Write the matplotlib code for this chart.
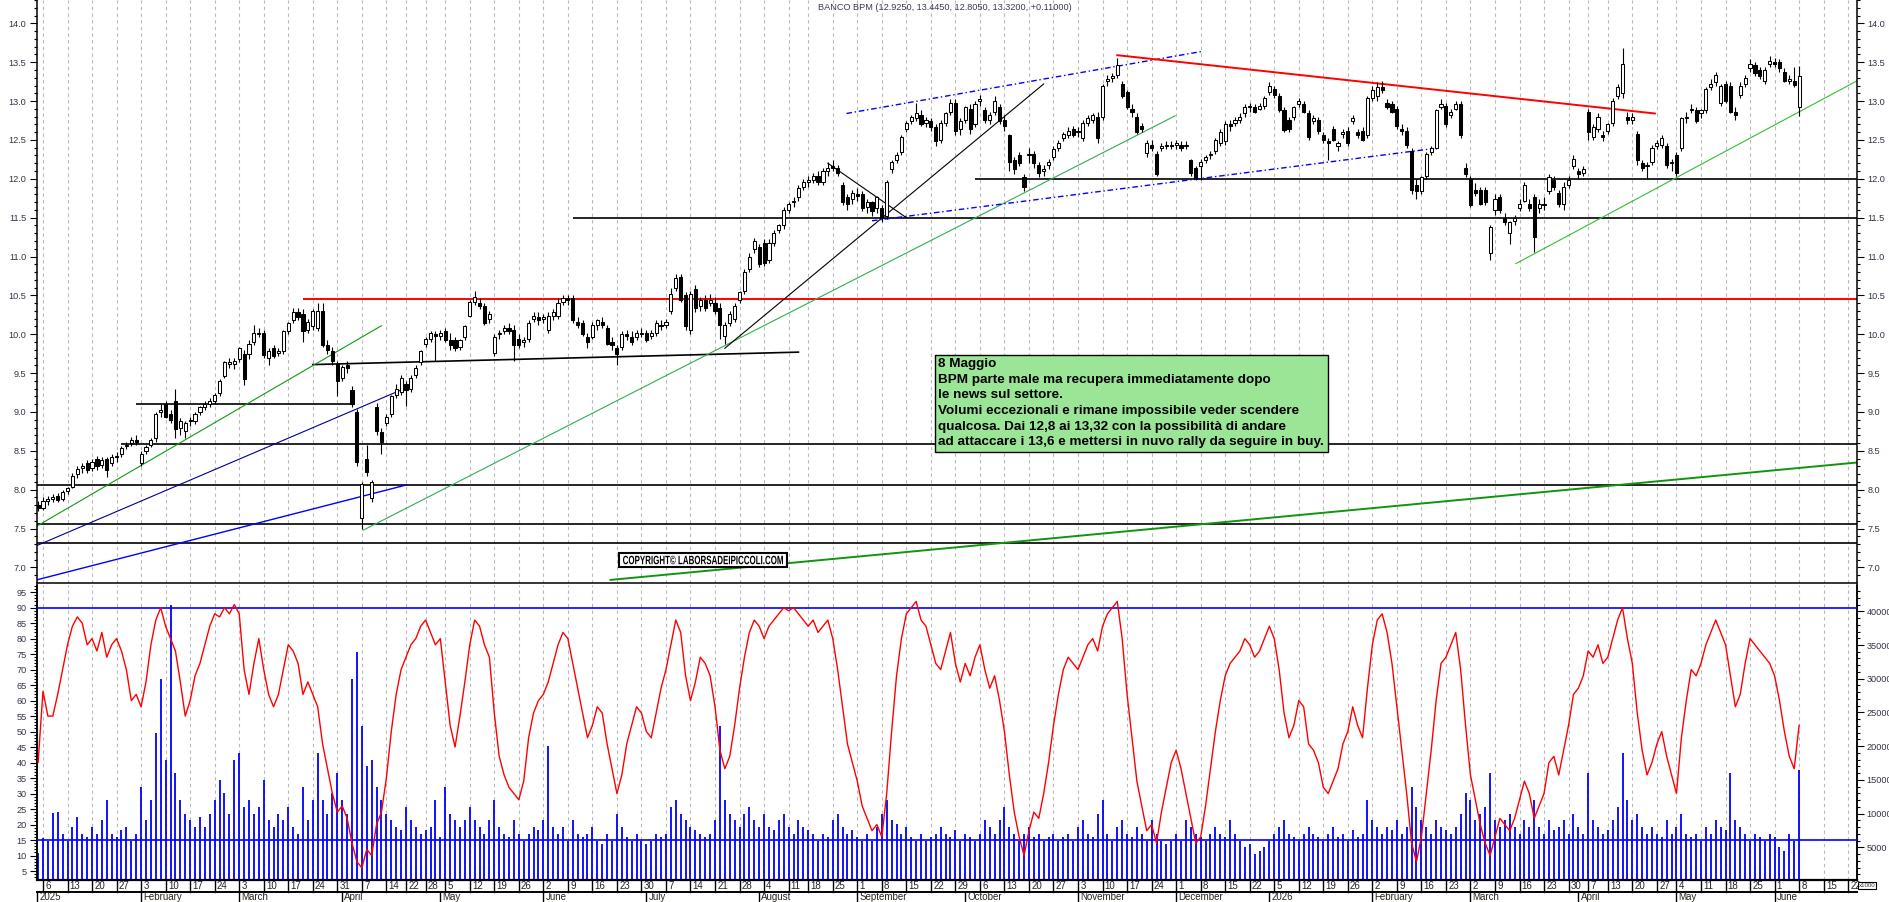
import numpy as np
import matplotlib
matplotlib.use("Agg")
import matplotlib.pyplot as plt
from matplotlib.patches import Rectangle, PathPatch
from matplotlib.textpath import TextPath
from matplotlib.font_manager import FontProperties
from matplotlib.transforms import blended_transform_factory, Affine2D, IdentityTransform

plt.rcParams['font.family'] = ['Liberation Sans', 'DejaVu Sans']

# trading-day index: 0 = Mon 6 Jan 2025, first candle is 3 Jan (index -1)
first_day = -1

opens = [
    7.80, 7.76, 7.86, 7.88, 7.92, 7.88, 7.98, 8.04, 8.20, 8.28,
    8.34, 8.28, 8.40, 8.32, 8.40, 8.34, 8.42, 8.46, 8.56, 8.60,
    8.64, 8.34, 8.50, 8.58, 8.66, 9.00, 9.10, 8.98, 9.14, 8.80,
    8.76, 8.88, 8.88, 9.00, 9.06, 9.10, 9.14, 9.24, 9.46, 9.62,
    9.62, 9.68, 9.74, 9.74, 9.90, 10.00, 10.02, 9.70, 9.82, 9.76,
    9.78, 10.04, 10.18, 10.28, 10.26, 10.06, 10.10, 10.08, 10.30, 9.86,
    9.78, 9.62, 9.44, 9.60, 9.28, 9.00, 7.64, 8.40, 7.89, 9.06,
    8.74, 8.86, 8.98, 9.22, 9.26, 9.36, 9.30, 9.48, 9.64, 9.88,
    9.94, 10.00, 9.98, 10.04, 9.92, 9.92, 9.84, 9.96, 10.24, 10.42,
    10.40, 10.36, 10.20, 9.76, 10.00, 10.04, 10.08, 10.06, 9.94, 9.90,
    9.94, 10.20, 10.22, 10.20, 10.06, 10.24, 10.24, 10.42, 10.46, 10.46,
    10.16, 10.14, 9.96, 9.96, 10.12, 10.16, 10.08, 9.90, 9.82, 9.84,
    10.00, 9.96, 9.96, 10.02, 10.02, 9.98, 10.02, 10.12, 10.12, 10.30,
    10.60, 10.74, 10.50, 10.06, 10.58, 10.36, 10.44, 10.40, 10.40, 10.34,
    9.98, 10.14, 10.20, 10.44, 10.56, 10.84, 11.10, 11.12, 11.18, 10.96,
    11.18, 11.34, 11.40, 11.60, 11.70, 11.76, 11.90, 11.96, 11.98, 12.04,
    11.96, 12.10, 12.16, 12.14, 11.92, 11.76, 11.74, 11.80, 11.80, 11.64,
    11.70, 11.62, 11.62, 11.52, 12.12, 12.24, 12.34, 12.64, 12.74, 12.78,
    12.82, 12.72, 12.74, 12.66, 12.50, 12.72, 12.86, 12.98, 12.64, 12.76,
    12.90, 12.70, 13.00, 12.88, 12.76, 12.86, 12.92, 12.76, 12.56, 12.24,
    12.30, 12.02, 12.30, 12.32, 12.18, 12.10, 12.18, 12.28, 12.40, 12.52,
    12.56, 12.64, 12.60, 12.52, 12.72, 12.76, 12.80, 12.80, 13.26, 13.30,
    13.34, 13.22, 13.12, 12.90, 12.80, 12.68, 12.33, 12.44, 12.32, 12.40,
    12.42, 12.44, 12.44, 12.44, 12.42, 12.24, 12.14, 12.16, 12.24, 12.30,
    12.36, 12.46, 12.48, 12.70, 12.72, 12.76, 12.84, 12.92, 12.92, 12.90,
    12.94, 13.12, 13.16, 13.06, 12.88, 12.76, 12.80, 12.96, 12.96, 12.84,
    12.74, 12.76, 12.56, 12.48, 12.64, 12.42, 12.58, 12.62, 12.74, 12.60,
    12.62, 12.56, 13.04, 13.06, 13.18, 12.98, 12.96, 12.90, 12.64, 12.62,
    12.36, 11.92, 11.84, 12.04, 12.34, 12.40, 12.92, 12.94, 12.82, 12.90,
    12.96, 12.14, 12.00, 11.86, 11.86, 11.86, 11.05, 11.60, 11.76, 11.50,
    11.30, 11.46, 11.62, 11.72, 11.68, 11.76, 11.62, 11.68, 11.84, 11.98,
    11.82, 11.68, 11.92, 12.16, 12.10, 12.08, 12.86, 12.54, 12.64, 12.56,
    12.62, 12.72, 13.06, 13.10, 12.80, 12.76, 12.58, 12.20, 12.16, 12.22,
    12.42, 12.44, 12.42, 12.20, 12.30, 12.40, 12.78, 12.88, 12.88, 12.84,
    12.88, 13.18, 13.24, 12.98, 13.22, 13.20, 12.86, 13.08, 13.22, 13.42,
    13.46, 13.40, 13.26, 13.48, 13.50, 13.50, 13.38, 13.26, 13.26, 12.925,
]
highs = [
    7.86, 7.90, 7.92, 7.95, 7.96, 8.00, 8.04, 8.22, 8.30, 8.34,
    8.38, 8.40, 8.44, 8.42, 8.42, 8.46, 8.48, 8.56, 8.62, 8.68,
    8.70, 8.50, 8.58, 8.66, 9.00, 9.10, 9.14, 9.02, 9.30, 8.92,
    8.88, 8.94, 9.00, 9.08, 9.14, 9.18, 9.24, 9.42, 9.66, 9.70,
    9.70, 9.84, 9.80, 9.92, 10.12, 10.08, 10.06, 9.82, 9.86, 9.82,
    10.06, 10.16, 10.34, 10.34, 10.32, 10.20, 10.32, 10.40, 10.40, 9.92,
    9.84, 9.66, 9.60, 9.66, 9.34, 9.04, 8.10, 8.58, 8.12, 9.12,
    8.80, 8.98, 9.22, 9.36, 9.48, 9.40, 9.48, 9.60, 9.80, 9.96,
    10.04, 10.04, 10.06, 10.08, 10.02, 9.96, 9.94, 10.12, 10.44, 10.56,
    10.46, 10.40, 10.30, 10.00, 10.06, 10.12, 10.14, 10.12, 10.00, 9.96,
    10.18, 10.28, 10.28, 10.26, 10.28, 10.32, 10.46, 10.50, 10.50, 10.50,
    10.22, 10.18, 10.02, 10.16, 10.20, 10.22, 10.12, 9.96, 9.86, 10.04,
    10.06, 10.04, 10.06, 10.08, 10.06, 10.06, 10.18, 10.18, 10.20, 10.60,
    10.78, 10.78, 10.54, 10.56, 10.64, 10.48, 10.50, 10.52, 10.48, 10.40,
    10.16, 10.30, 10.40, 10.56, 10.84, 11.04, 11.24, 11.16, 11.22, 11.22,
    11.34, 11.42, 11.64, 11.70, 11.76, 11.92, 12.00, 12.04, 12.08, 12.10,
    12.14, 12.22, 12.24, 12.18, 11.96, 11.80, 11.86, 11.88, 11.84, 11.74,
    11.72, 11.78, 11.66, 11.98, 12.24, 12.34, 12.56, 12.74, 12.82, 12.98,
    12.88, 12.80, 12.78, 12.70, 12.76, 12.86, 13.02, 13.02, 12.78, 12.94,
    12.96, 13.00, 13.08, 12.92, 12.86, 13.06, 12.96, 12.82, 12.58, 12.28,
    12.34, 12.06, 12.40, 12.36, 12.22, 12.18, 12.26, 12.42, 12.50, 12.60,
    12.66, 12.68, 12.66, 12.76, 12.82, 12.84, 12.86, 13.22, 13.34, 13.36,
    13.55, 13.26, 13.14, 12.96, 12.84, 12.72, 12.50, 12.50, 12.36, 12.46,
    12.48, 12.48, 12.50, 12.48, 12.48, 12.26, 12.16, 12.26, 12.30, 12.36,
    12.52, 12.64, 12.74, 12.76, 12.80, 12.84, 12.96, 12.98, 12.96, 12.98,
    13.06, 13.24, 13.20, 13.10, 12.92, 12.80, 12.94, 13.04, 13.00, 12.88,
    12.82, 12.80, 12.60, 12.52, 12.68, 12.48, 12.64, 12.66, 12.82, 12.64,
    12.66, 13.06, 13.20, 13.24, 13.26, 13.02, 13.00, 12.94, 12.70, 12.66,
    12.40, 12.00, 12.04, 12.34, 12.42, 12.90, 13.02, 12.98, 12.90, 13.00,
    13.00, 12.20, 12.04, 11.94, 11.90, 11.90, 11.40, 11.80, 11.80, 11.56,
    11.46, 11.54, 11.74, 11.96, 11.74, 11.80, 11.74, 11.76, 12.06, 12.04,
    11.86, 11.96, 12.04, 12.30, 12.14, 12.16, 12.90, 12.70, 12.84, 12.62,
    12.72, 13.04, 13.22, 13.68, 12.86, 12.84, 12.62, 12.24, 12.22, 12.44,
    12.50, 12.56, 12.46, 12.26, 12.34, 12.80, 12.86, 12.96, 12.92, 12.90,
    13.18, 13.28, 13.38, 13.22, 13.26, 13.24, 12.92, 13.24, 13.34, 13.54,
    13.50, 13.44, 13.44, 13.58, 13.56, 13.54, 13.42, 13.34, 13.44, 13.445,
]
lows = [
    7.72, 7.74, 7.80, 7.84, 7.84, 7.86, 7.94, 8.02, 8.15, 8.22,
    8.22, 8.24, 8.26, 8.28, 8.16, 8.30, 8.36, 8.42, 8.52, 8.56,
    8.58, 8.30, 8.46, 8.55, 8.62, 8.94, 8.92, 8.86, 8.66, 8.70,
    8.67, 8.82, 8.84, 8.96, 9.02, 9.06, 9.10, 9.20, 9.44, 9.56,
    9.55, 9.64, 9.35, 9.68, 9.86, 9.96, 9.70, 9.60, 9.70, 9.72,
    9.74, 10.00, 10.14, 10.18, 9.90, 10.02, 10.05, 10.04, 9.84, 9.74,
    9.60, 9.20, 9.40, 9.50, 9.06, 8.30, 7.50, 8.18, 7.84, 8.70,
    8.46, 8.82, 8.94, 9.18, 9.22, 9.08, 9.26, 9.44, 9.60, 9.84,
    9.90, 9.65, 9.92, 9.90, 9.80, 9.78, 9.80, 9.92, 10.22, 10.38,
    10.32, 10.12, 10.14, 9.72, 9.94, 10.00, 10.00, 9.66, 9.82, 9.84,
    9.90, 10.16, 10.12, 10.14, 10.02, 10.18, 10.20, 10.38, 10.38, 10.14,
    10.08, 9.98, 9.82, 9.94, 10.06, 10.08, 9.86, 9.80, 9.60, 9.80,
    9.92, 9.86, 9.92, 9.96, 9.90, 9.94, 9.98, 10.06, 10.08, 10.26,
    10.56, 10.42, 10.06, 10.00, 10.28, 10.30, 10.30, 10.36, 10.26, 9.94,
    9.88, 10.10, 10.16, 10.40, 10.52, 10.80, 11.04, 10.86, 10.88, 10.92,
    11.14, 11.30, 11.36, 11.56, 11.64, 11.72, 11.86, 11.90, 11.94, 11.92,
    11.92, 12.04, 12.10, 12.04, 11.66, 11.60, 11.68, 11.72, 11.58, 11.56,
    11.52, 11.56, 11.44, 11.48, 12.08, 12.20, 12.30, 12.60, 12.70, 12.74,
    12.68, 12.66, 12.62, 12.42, 12.46, 12.68, 12.82, 12.56, 12.56, 12.72,
    12.58, 12.66, 12.94, 12.72, 12.70, 12.82, 12.70, 12.62, 12.10, 12.06,
    12.16, 11.84, 12.20, 12.14, 12.02, 12.04, 12.12, 12.24, 12.36, 12.48,
    12.52, 12.54, 12.54, 12.48, 12.68, 12.72, 12.46, 12.76, 13.20, 13.24,
    13.30, 13.04, 12.90, 12.80, 12.58, 12.60, 12.28, 12.36, 12.04, 12.36,
    12.38, 12.38, 12.38, 12.36, 12.38, 12.04, 11.98, 11.98, 12.20, 12.26,
    12.32, 12.42, 12.44, 12.62, 12.68, 12.72, 12.80, 12.86, 12.84, 12.88,
    12.90, 13.08, 13.04, 12.86, 12.60, 12.60, 12.76, 12.92, 12.84, 12.50,
    12.70, 12.58, 12.46, 12.24, 12.48, 12.36, 12.52, 12.42, 12.70, 12.52,
    12.48, 12.52, 13.00, 13.00, 13.10, 12.90, 12.84, 12.64, 12.56, 12.40,
    11.80, 11.74, 11.80, 12.00, 12.30, 12.38, 12.90, 12.66, 12.78, 12.88,
    12.52, 12.02, 11.64, 11.78, 11.66, 11.66, 10.95, 11.54, 11.56, 11.40,
    11.16, 11.40, 11.58, 11.70, 11.58, 11.06, 11.56, 11.60, 11.80, 11.86,
    11.64, 11.60, 11.88, 12.12, 12.00, 12.04, 12.50, 12.50, 12.60, 12.48,
    12.58, 12.68, 13.02, 13.04, 12.70, 12.70, 12.18, 12.10, 12.00, 12.18,
    12.38, 12.40, 12.14, 12.10, 12.04, 12.36, 12.72, 12.84, 12.72, 12.78,
    12.84, 13.14, 13.20, 12.94, 12.98, 12.84, 12.76, 13.04, 13.18, 13.38,
    13.32, 13.28, 13.22, 13.44, 13.44, 13.38, 13.24, 13.22, 13.18, 12.805,
]
closes = [
    7.76, 7.86, 7.88, 7.90, 7.87, 7.97, 8.02, 8.18, 8.27, 8.30,
    8.26, 8.36, 8.30, 8.38, 8.26, 8.42, 8.44, 8.54, 8.58, 8.64,
    8.62, 8.46, 8.55, 8.64, 8.98, 9.02, 8.94, 8.90, 8.78, 8.88,
    8.86, 8.90, 8.98, 9.06, 9.10, 9.14, 9.22, 9.40, 9.64, 9.64,
    9.66, 9.82, 9.42, 9.88, 10.02, 10.02, 9.73, 9.78, 9.72, 9.78,
    10.04, 10.14, 10.28, 10.22, 10.04, 10.16, 10.30, 10.30, 9.86, 9.80,
    9.65, 9.40, 9.58, 9.56, 9.10, 8.36, 8.07, 8.23, 8.10, 8.76,
    8.62, 8.94, 9.20, 9.30, 9.44, 9.28, 9.44, 9.56, 9.78, 9.94,
    10.02, 9.98, 10.02, 9.92, 9.86, 9.82, 9.92, 10.10, 10.42, 10.48,
    10.36, 10.14, 10.26, 9.97, 10.00, 10.08, 10.04, 9.86, 9.86, 9.92,
    10.14, 10.24, 10.18, 10.22, 10.24, 10.28, 10.40, 10.46, 10.44, 10.18,
    10.12, 10.00, 9.90, 10.12, 10.18, 10.12, 9.88, 9.86, 9.74, 10.00,
    9.98, 9.90, 10.02, 10.00, 9.92, 10.02, 10.14, 10.10, 10.16, 10.52,
    10.72, 10.44, 10.10, 10.52, 10.34, 10.44, 10.34, 10.44, 10.30, 10.12,
    10.12, 10.26, 10.36, 10.54, 10.80, 11.00, 11.20, 10.90, 10.92, 11.18,
    11.30, 11.40, 11.60, 11.68, 11.72, 11.88, 11.96, 11.98, 12.04, 11.96,
    12.10, 12.14, 12.14, 12.08, 11.70, 11.68, 11.82, 11.78, 11.62, 11.70,
    11.58, 11.76, 11.50, 11.96, 12.22, 12.30, 12.54, 12.72, 12.80, 12.84,
    12.70, 12.76, 12.66, 12.48, 12.72, 12.84, 12.98, 12.62, 12.74, 12.92,
    12.64, 12.96, 13.02, 12.76, 12.82, 13.00, 12.74, 12.68, 12.22, 12.12,
    12.20, 11.90, 12.32, 12.20, 12.08, 12.12, 12.22, 12.38, 12.46, 12.58,
    12.62, 12.56, 12.62, 12.72, 12.78, 12.82, 12.52, 13.20, 13.28, 13.32,
    13.46, 13.06, 12.92, 12.86, 12.60, 12.64, 12.46, 12.40, 12.06, 12.42,
    12.44, 12.42, 12.46, 12.40, 12.44, 12.08, 12.00, 12.22, 12.28, 12.32,
    12.50, 12.60, 12.70, 12.68, 12.76, 12.80, 12.92, 12.94, 12.86, 12.94,
    13.04, 13.20, 13.08, 12.88, 12.63, 12.64, 12.92, 13.00, 12.86, 12.54,
    12.78, 12.62, 12.50, 12.46, 12.50, 12.46, 12.60, 12.46, 12.78, 12.56,
    12.50, 13.04, 13.14, 13.18, 13.14, 12.92, 12.86, 12.68, 12.62, 12.44,
    11.86, 11.84, 12.02, 12.32, 12.40, 12.88, 12.96, 12.70, 12.86, 12.96,
    12.56, 12.06, 11.66, 11.82, 11.68, 11.70, 11.38, 11.74, 11.60, 11.44,
    11.44, 11.50, 11.68, 11.92, 11.62, 11.25, 11.68, 11.66, 12.02, 11.90,
    11.68, 11.90, 11.98, 12.26, 12.06, 12.12, 12.60, 12.66, 12.80, 12.54,
    12.70, 13.00, 13.18, 13.48, 12.76, 12.80, 12.24, 12.14, 12.18, 12.40,
    12.46, 12.52, 12.18, 12.22, 12.08, 12.78, 12.80, 12.90, 12.74, 12.88,
    13.16, 13.22, 13.34, 13.20, 13.00, 12.86, 12.82, 13.20, 13.30, 13.48,
    13.36, 13.32, 13.40, 13.52, 13.48, 13.42, 13.26, 13.28, 13.21, 13.32,
]
volumes = [
    4200, 6400, 6000, 10100, 10300, 7000, 6000, 8000, 9500, 7000,
    6500, 8000, 7000, 9000, 12000, 7000, 6500, 7500, 8000, 6000,
    7000, 14000, 9000, 12000, 22000, 30000, 18000, 41000, 16000, 12000,
    10000, 9000, 8000, 9500, 8000, 10000, 12000, 15000, 13000, 10000,
    18000, 19000, 11000, 12000, 10000, 11000, 15000, 9000, 8000, 10000,
    9000, 11000, 8000, 7000, 14000, 9000, 12000, 19000, 12000, 10000,
    13000, 16000, 12000, 10000, 30000, 34000, 23000, 17000, 18000, 14000,
    12000, 10000, 9000, 8000, 7500, 11000, 9000, 8000, 7000, 7500,
    8000, 12000, 6500, 14000, 10000, 9000, 8000, 9000, 11000, 9000,
    8000, 7000, 9000, 12000, 8000, 7000, 6500, 9000, 7000, 6000,
    7000, 8000, 7500, 9000, 20000, 8000, 7000, 8000, 6000, 9000,
    7000, 6500, 7000, 8000, 6000, 5500, 7000, 6000, 10000, 8000,
    6500, 6000, 7000, 6000, 5500, 6000, 7000, 6500, 7000, 11000,
    12000, 10000, 9000, 8000, 7500, 7000, 6500, 7000, 9000, 23000,
    12000, 10000, 9000, 8000, 10000, 11000, 9000, 8000, 10000, 8000,
    7500, 9000, 10000, 8000, 7000, 9000, 8000, 7500, 7000, 6000,
    7000, 6500, 9000, 10000, 8000, 7000, 7500, 6500, 6000, 7000,
    6000, 8000, 10000, 12000, 9000, 8500, 7000, 8000, 6500, 6000,
    7000, 6000, 6500, 7000, 8000, 7000, 6500, 7500, 6000, 7000,
    6500, 6000, 7000, 9000, 8000, 7000, 9000, 11000, 8000, 7000,
    6000, 7000, 8000, 6500, 7000, 6000, 6500, 7000, 6000, 6500,
    7000, 6000, 8000, 9000, 7000, 6500, 10000, 12000, 7000, 6000,
    8000, 9000, 7000, 6500, 8000, 7000, 6000, 9000, 7000, 6000,
    5500, 6000, 7000, 6000, 9000, 8000, 7000, 6500, 6000, 7000,
    8000, 7000, 6500, 9000, 7000, 6000, 5000, 5500, 4000, 4500,
    5000, 6000, 7000, 8000, 9000, 7000, 6500, 6000, 7000, 8000,
    7000, 6500, 6000, 7000, 8000, 6500, 7000, 6000, 7500, 6500,
    7000, 12000, 9000, 8000, 7000, 8000, 7500, 9000, 7000, 8000,
    14000, 11000, 9000, 8000, 7000, 9000, 8000, 7500, 7000, 8000,
    10000, 13000, 12000, 9000, 10000, 11000, 16000, 9000, 8000, 9000,
    10000, 8000, 7000, 9000, 8000, 12000, 8000, 7000, 9000, 7500,
    8000, 9000, 7000, 10000, 8000, 7000, 16000, 9000, 8000, 7000,
    7500, 9000, 11000, 19000, 12000, 9000, 10000, 8000, 7000, 8000,
    7000, 6500, 9000, 7000, 8000, 10000, 7000, 6500, 7000, 6000,
    8000, 7000, 9000, 8000, 7500, 16000, 9000, 8000, 7000, 6000,
    7000, 6500, 6000, 7000, 6500, 5000, 4500, 7000, 6000, 16500,
]
oscillator = [
    40, 63, 55, 55, 62, 70, 78, 84, 87, 85,
    78, 80, 76, 82, 74, 78, 80, 76, 70, 60,
    62, 58, 66, 78, 86, 90, 84, 80, 76, 66,
    55, 60, 68, 72, 78, 84, 88, 87, 90, 88,
    91, 88, 70, 62, 72, 80, 70, 62, 58, 62,
    70, 78, 76, 72, 62, 66, 62, 58, 46, 38,
    30, 24, 26, 22, 14, 8, 6, 12, 10, 20,
    24, 35, 50, 62, 70, 74, 78, 80, 84, 86,
    82, 78, 80, 66, 52, 45, 55, 66, 78, 86,
    84, 78, 74, 56, 42, 36, 32, 30, 28, 34,
    48, 56, 60, 62, 66, 72, 78, 82, 80, 72,
    64, 56, 48, 52, 58, 56, 46, 38, 30, 36,
    46, 52, 58, 56, 50, 48, 56, 64, 70, 78,
    86, 82, 68, 60, 66, 74, 72, 68, 58, 44,
    38, 42, 52, 64, 74, 82, 86, 84, 80, 84,
    86, 88, 90, 89, 90, 88, 86, 84, 86, 82,
    84, 86, 80, 70, 58, 46, 40, 34, 26, 22,
    18, 20, 16, 30, 50, 68, 80, 88, 90, 92,
    86, 84, 78, 72, 70, 76, 82, 72, 66, 72,
    68, 74, 78, 70, 64, 68, 60, 50, 36, 24,
    16, 10, 18, 24, 22, 30, 40, 52, 62, 70,
    74, 72, 70, 74, 78, 80, 76, 84, 88, 90,
    92, 80, 62, 48, 34, 26, 18, 20, 14, 24,
    32, 40, 44, 38, 30, 22, 14, 16, 26, 38,
    50, 60, 68, 72, 74, 76, 80, 78, 74, 76,
    80, 84, 80, 70, 56, 48, 52, 60, 58, 46,
    44, 40, 32, 30, 34, 38, 46, 50, 58, 52,
    48, 64, 78, 86, 88, 82, 72, 58, 44, 30,
    14, 8, 16, 30, 44, 60, 72, 74, 78, 82,
    70, 52, 36, 28, 20, 14, 10, 16, 22, 20,
    18, 22, 28, 34, 30, 22, 26, 30, 40, 42,
    36, 44, 52, 62, 64, 68, 76, 74, 78, 72,
    74, 80, 86, 90, 80, 72, 56, 44, 36, 40,
    46, 50, 42, 36, 30, 48, 60, 70, 68, 72,
    78, 82, 86, 82, 78, 68, 58, 62, 72, 80,
    78, 76, 74, 72, 68, 60, 50, 42, 38, 52,
]

# weekly date ticks (trading-day index, label) and month starts
week_ticks = [
    (0, '6'), (5, '13'), (10, '20'), (15, '27'), (20, '3'), (25, '10'), (30, '17'),
    (35, '24'), (40, '3'), (45, '10'), (50, '17'), (55, '24'), (60, '31'), (65, '7'),
    (70, '14'), (74, '22'), (78, '28'), (82, '5'), (87, '12'), (92, '19'), (97, '26'),
    (102, '2'), (107, '9'), (112, '16'), (117, '23'), (122, '30'), (127, '7'),
    (132, '14'), (137, '21'), (142, '28'), (147, '4'), (152, '11'), (156, '18'),
    (161, '25'), (166, '1'), (171, '8'), (176, '15'), (181, '22'), (186, '29'),
    (191, '6'), (196, '13'), (201, '20'), (206, '27'), (211, '3'), (216, '10'),
    (221, '17'), (226, '24'), (231, '1'), (236, '8'), (241, '15'), (246, '22'),
    (251, '5'), (256, '12'), (261, '19'), (266, '26'), (271, '2'), (276, '9'),
    (281, '16'), (286, '23'), (291, '2'), (296, '9'), (301, '16'), (306, '23'),
    (311, '30'), (315, '7'), (319, '13'), (324, '20'), (329, '27'), (333, '4'),
    (338, '11'), (343, '18'), (348, '25'), (353, '1'), (358, '8'), (363, '15'),
    (368, '22'),
]
month_ticks = [
    (-1.2, '2025'), (20, 'February'), (40, 'March'), (61, 'April'), (81, 'May'),
    (102, 'June'), (123, 'July'), (146, 'August'), (166, 'September'),
    (188, 'October'), (211, 'November'), (231, 'December'), (250, '2026'),
    (271, 'February'), (291, 'March'), (313, 'April'), (333, 'May'), (353, 'June'),
]

# drawn horizontal levels: (price, from, to, colour, width)
levels = [
    (10.45, 53, 370, 'red', 1.4),
    (11.50, 108, 370, 'black', 1.2),
    (12.00, 190, 370, 'black', 1.2),
    (8.59, 16, 370, 'black', 1.2),
    (8.055, -2, 370, 'black', 1.2),
    (7.565, -2, 370, 'black', 1.2),
    (7.31, -2, 370, 'black', 1.2),
    (9.10, 19, 63, 'black', 1.2),
]
# drawn trend lines: (x0, y0, x1, y1, colour, width, style)
trendlines = [
    (55, 9.61, 154, 9.77, 'black', 1.2, '-'),
    (-1.3, 7.53, 69, 10.11, '#109a10', 0.8, '-'),
    (-1.3, 7.28, 74, 9.31, '#000090', 0.8, '-'),
    (-1.3, 6.84, 74, 8.06, '#0000ff', 1.0, '-'),
    (65.3, 7.48, 230.8, 12.81, '#2fae55', 0.8, '-'),
    (139, 9.82, 204, 13.22, 'black', 0.8, '-'),
    (160, 12.20, 176, 11.50, 'black', 0.8, '-'),
    (163.8, 12.84, 236.4, 13.64, '#0000ff', 1.0, (0, (4, 2, 1, 2))),
    (169, 11.46, 283.6, 12.39, '#0000ff', 1.0, (0, (4, 2, 1, 2))),
    (219, 13.59, 328.6, 12.84, 'red', 1.4, '-'),
    (300.3, 10.91, 369.8, 13.26, '#33c030', 0.8, '-'),
    (115.7, 6.84, 369.8, 8.35, '#10950f', 1.4, '-'),
]

note_lines = [
    "8 Maggio",
    "BPM parte male ma recupera immediatamente dopo",
    "le news sul settore.",
    "Volumi eccezionali e rimane impossibile veder scendere",
    "qualcosa. Dai 12,8 ai 13,32 con la possibilit\u00e0 di andare",
    "ad attaccare i 13,6 e mettersi in nuvo rally da seguire in buy.",
]
copyright_text = 'COPYRIGHT\u00a9 LABORSADEIPICCOLI.COM'

W, H = 1890, 902
fig = plt.figure(figsize=(W / 100, H / 100), dpi=100)
fig.patch.set_facecolor('white')


def fx(px):
    return px / W


def fy(py):
    return 1 - py / H


X0, X1 = 37, 1857
xlim = (-1.22, 369.8)
lab_col = '#333348'
tick_fs = 6.6

ax = fig.add_axes([fx(X0), fy(583), fx(X1) - fx(X0), fy(0) - fy(583)])
axl = fig.add_axes([fx(X0), fy(880), fx(X1) - fx(X0), fy(585) - fy(880)])
axv = axl.twinx()
axl.set_zorder(axv.get_zorder() + 1)
axl.patch.set_visible(False)

days = np.arange(first_day, first_day + len(closes))
o = np.array(opens)
h = np.array(highs)
l = np.array(lows)
c = np.array(closes)

week_x = [t[0] for t in week_ticks]
for a in (ax, axv):
    for wx in week_x:
        a.axvline(wx, color='#b8b8b8', lw=0.8, ls=(0, (3, 3)), zorder=0)

# candles
ax.vlines(days, l, h, color='black', lw=0.8, zorder=3)
body_lo = np.minimum(o, c)
body_h = np.maximum(np.abs(c - o), 0.012)
ax.bar(days, body_h, bottom=body_lo, width=0.64,
       color=np.where(c >= o, 'white', 'black'), edgecolor='black',
       linewidth=0.75, zorder=4)

for y, a0, a1, col, lw in levels:
    ax.hlines(y, a0, a1, color=col, lw=lw, zorder=2)
for x0, y0, x1, y1, col, lw, ls in trendlines:
    ax.plot([x0, x1], [y0, y1], color=col, lw=lw, ls=ls, zorder=2)

ax.set_xlim(*xlim)
ax.set_ylim(6.80, 14.30)
ax.set_xticks([])
ax.set_yticks(np.arange(7.0, 14.01, 0.5))
ax.set_yticks(np.arange(6.9, 14.31, 0.1), minor=True)
ax.yaxis.set_major_formatter(matplotlib.ticker.FormatStrFormatter('%.1f'))
ax.tick_params(axis='y', which='both', left=True, right=True, labelleft=True,
               labelright=True, direction='out', labelsize=tick_fs, labelcolor=lab_col,
               width=0.8)
ax.tick_params(axis='y', which='major', length=5, pad=2.5)
ax.tick_params(axis='y', which='minor', length=2.5)
ax.spines['top'].set_visible(False)
for s in ('left', 'right', 'bottom'):
    ax.spines[s].set_linewidth(1.1)

# note box
bx0, bx1, by0, by1 = 935, 1328, 355, 452
fig.patches.append(Rectangle((fx(bx0), fy(by1)), fx(bx1) - fx(bx0), fy(by0) - fy(by1),
                             transform=fig.transFigure, facecolor='#9be597',
                             edgecolor='black', lw=1.0, zorder=5))
for k, line in enumerate(note_lines):
    fig.text(fx(938), fy(364 + k * 15.7), line, fontsize=9.7, fontweight='bold',
             ha='left', va='center', color='black', zorder=6)

# copyright stamp: condensed bold lettering in a framed white box
cx0, cx1, cy0, cy1 = 619, 787, 553, 567
fig.patches.append(Rectangle((cx0, H - cy1), cx1 - cx0, cy1 - cy0,
                             transform=IdentityTransform(), facecolor='white',
                             edgecolor='black', lw=1.5, zorder=5))
tp = TextPath((0, 0), copyright_text, size=10,
              prop=FontProperties(family='Liberation Sans', weight='bold'))
ext = tp.get_extents()
sx = 160 / ext.width
sy = 8.6 / ext.height
tx = (cx0 + cx1) / 2 - sx * (ext.x0 + ext.width / 2)
ty = H - (cy0 + cy1) / 2 - sy * (ext.y0 + ext.height / 2)
fig.patches.append(PathPatch(tp, transform=Affine2D().scale(sx, sy).translate(tx, ty),
                             facecolor='black', edgecolor='none', zorder=6))

fig.text(fx(945), fy(7.5), 'BANCO BPM (12.9250, 13.4450, 12.8050, 13.3200, +0.11000)',
         fontsize=6.6, ha='center', va='center', color='#3a3a50')

# lower panel: volume (right scale) and oscillator (left scale)
axv.vlines(days, 0, volumes, color='#0000ff', lw=1.3, zorder=1)
axv.set_ylim(150, 43900)
axv.set_yticks(np.arange(5000, 40001, 5000))
axv.set_yticks(np.arange(1000, 43001, 1000), minor=True)
axv.tick_params(axis='y', which='both', direction='out', labelsize=tick_fs,
                labelcolor=lab_col, width=0.8)
axv.tick_params(axis='y', which='major', length=5, pad=2)
axv.tick_params(axis='y', which='minor', length=2.5)
axv.set_xlim(*xlim)
axv.set_xticks([])

axl.axhline(90, color='#0000ff', lw=1.2, zorder=3)
axl.axhline(15, color='#0000ff', lw=1.2, zorder=3)
axl.plot(days, oscillator, color='red', lw=1.0, zorder=4)
axl.set_xlim(*xlim)
axl.set_ylim(2.1, 97.3)
axl.set_yticks(np.arange(5, 96, 5))
axl.set_yticks(np.arange(3, 98, 1), minor=True)
axl.tick_params(axis='y', which='both', direction='out', labelsize=tick_fs,
                labelcolor=lab_col, width=0.8)
axl.tick_params(axis='y', which='major', length=5, pad=2.5)
axl.tick_params(axis='y', which='minor', length=2.5)
axl.set_xticks([])
for a in (axl, axv):
    a.spines['top'].set_visible(False)
    for s in ('left', 'right', 'bottom'):
        a.spines[s].set_linewidth(1.1)
axv.spines['bottom'].set_linewidth(1.6)

# date rows under the lower panel
trans = blended_transform_factory(axl.transData, axl.transAxes)
ph = 295.0
row1 = -12 / ph
row2 = -22 / ph
axl.plot([xlim[0], xlim[1]], [row1, row1], color='black', lw=1.4,
         transform=trans, clip_on=False)
for wx, lab in week_ticks:
    axl.plot([wx, wx], [0, row1], color='black', lw=1.0, transform=trans, clip_on=False)
    axl.text(wx + 0.45, -6.2 / ph, lab, transform=trans, fontsize=7.0, ha='left',
             va='center', color='#222222', clip_on=False)
for mx, lab in month_ticks:
    axl.plot([mx, mx], [row1, row2], color='black', lw=1.0, transform=trans, clip_on=False)
    axl.text(mx + 0.45, -17.2 / ph, lab, transform=trans, fontsize=7.0, ha='left',
             va='center', color='#2a2218', clip_on=False)

fig.text(fx(1858.5), fy(885.5), 'x1000', fontsize=4.4, ha='left', va='center',
         color='#333333', bbox=dict(boxstyle='square,pad=0.15', facecolor='white',
                                    edgecolor='black', lw=0.8))

fig.savefig('out.png', dpi=100)
